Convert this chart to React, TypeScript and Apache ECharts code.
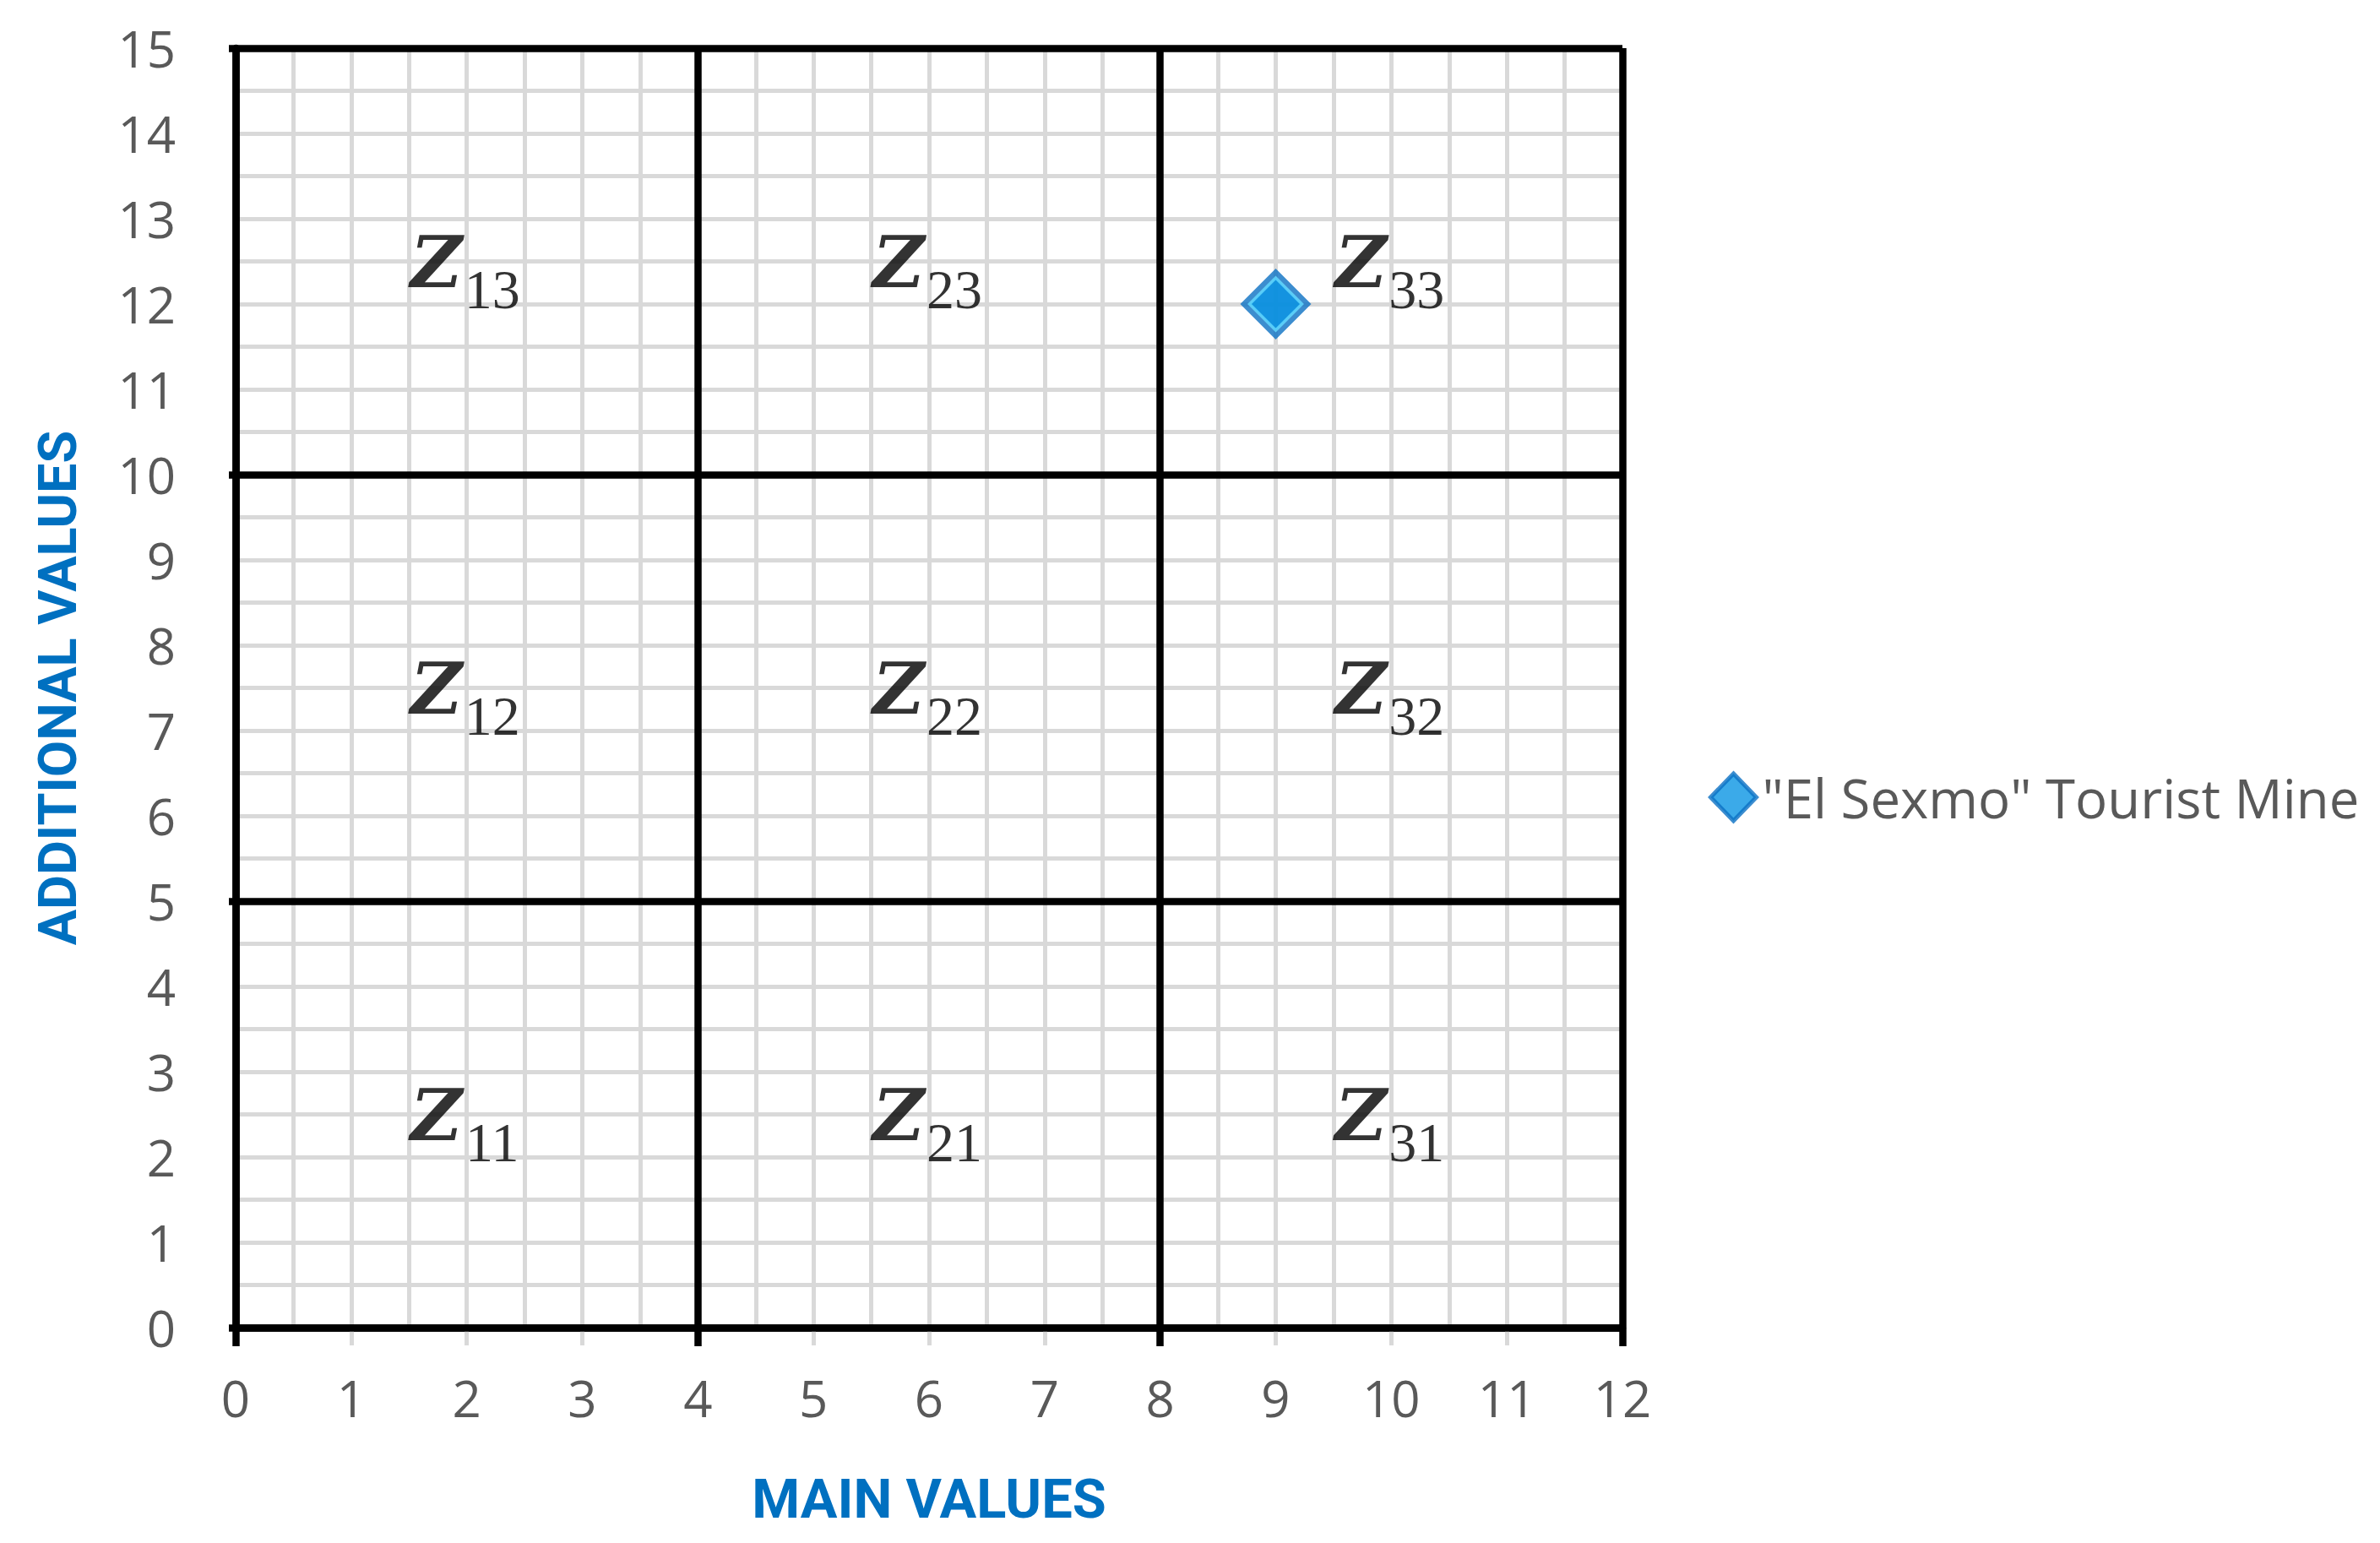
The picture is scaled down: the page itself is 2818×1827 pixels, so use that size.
import { useEffect, useRef } from "react";
import * as echarts from "echarts";

// Axis ranges
const X_MIN = 0;
const X_MAX = 12;
const Y_MIN = 0;
const Y_MAX = 15;
const TICK_STEP = 1;
const DIVIDER_STEP_X = 4;
const DIVIDER_STEP_Y = 5;

// Series: the tourist mine
const mineName = '"El Sexmo" Tourist Mine';
const mineX = [9];
const mineY = [12];

// Zone labels (Z_ij), placed at cell centres
const zoneX = [2, 6, 10, 2, 6, 10, 2, 6, 10];
const zoneY = [2.35, 2.35, 2.35, 7.35, 7.35, 7.35, 12.35, 12.35, 12.35];
const zoneSub = ["11", "21", "31", "12", "22", "32", "13", "23", "33"];

const GRAY = "#d9d9d9";
const LABEL = "#595959";
const BLUE = "#0070C0";

export default function App() {
  const ref = useRef<HTMLDivElement>(null);

  useEffect(() => {
    if (!ref.current) return;
    const chart = echarts.init(ref.current, undefined, { renderer: "svg" });

    const mineData = mineX.map((x, i) => [x, mineY[i]]);
    const zoneData = zoneX.map((x, i) => ({ value: [x, zoneY[i]], name: zoneSub[i] }));

    const option: any = {
      animation: false,
      backgroundColor: "#ffffff",
      grid: { left: 279, right: 897, top: 57, bottom: 255, containLabel: false },
      legend: {
        left: 2023,
        top: 912,
        padding: 0,
        itemWidth: 54,
        itemHeight: 56,
        data: [
          {
            name: mineName,
            icon: "diamond",
            itemStyle: { color: "#0a95e4", borderColor: "#0b71c3", borderWidth: 5 },
          },
        ],
        textStyle: { color: LABEL, fontFamily: "Open Sans", fontSize: 63.5, padding: [0, 0, 0, 2] },
      },
      xAxis: [
        {
          type: "value",
          min: X_MIN,
          max: X_MAX,
          interval: TICK_STEP,
          position: "bottom",
          name: "MAIN VALUES",
          nameLocation: "middle",
          nameGap: 170,
          nameTextStyle: { color: BLUE, fontFamily: "Roboto", fontWeight: "bold", fontSize: 65 },
          axisLine: { show: true, onZero: false, lineStyle: { color: "#000", width: 8.5 } },
          axisTick: { show: true, length: 21, lineStyle: { color: GRAY, width: 5 } },
          axisLabel: { color: LABEL, fontFamily: "Open Sans", fontSize: 60, margin: 53 },
          splitLine: { show: true, lineStyle: { color: GRAY, width: 5 } },
          minorTick: { show: false, splitNumber: 2 },
          minorSplitLine: { show: true, lineStyle: { color: GRAY, width: 5 } },
          z: 0,
        },
        {
          type: "value",
          min: X_MIN,
          max: X_MAX,
          interval: DIVIDER_STEP_X,
          position: "bottom",
          axisLine: { show: false },
          axisTick: { show: true, length: 22, lineStyle: { color: "#000", width: 8.5 } },
          axisLabel: { show: false },
          splitLine: { show: true, lineStyle: { color: "#000", width: 8.5 } },
          z: 1,
        },
      ],
      yAxis: [
        {
          type: "value",
          min: Y_MIN,
          max: Y_MAX,
          interval: TICK_STEP,
          position: "left",
          name: "ADDITIONAL VALUES",
          nameLocation: "middle",
          nameGap: 179,
          nameRotate: 90,
          nameTextStyle: { color: BLUE, fontFamily: "Roboto", fontWeight: "bold", fontSize: 63 },
          axisLine: { show: true, onZero: false, lineStyle: { color: "#000", width: 8.5 } },
          axisTick: { show: false },
          axisLabel: { color: LABEL, fontFamily: "Open Sans", fontSize: 60, margin: 71 },
          splitLine: { show: true, lineStyle: { color: GRAY, width: 5 } },
          minorTick: { show: false, splitNumber: 2 },
          minorSplitLine: { show: true, lineStyle: { color: GRAY, width: 5 } },
          z: 0,
        },
        {
          type: "value",
          min: Y_MIN,
          max: Y_MAX,
          interval: DIVIDER_STEP_Y,
          position: "left",
          axisLine: { show: false },
          axisTick: { show: true, length: 8, lineStyle: { color: "#000", width: 8.5 } },
          axisLabel: { show: false },
          splitLine: { show: true, lineStyle: { color: "#000", width: 8.5 } },
          z: 1,
        },
      ],
      series: [
        {
          name: mineName,
          type: "scatter",
          xAxisIndex: 0,
          yAxisIndex: 0,
          symbol: "diamond",
          symbolSize: 84,
          itemStyle: { color: "#0b71c3" },
          data: mineData,
          z: 5,
        },
        {
          name: mineName + " inner",
          type: "scatter",
          xAxisIndex: 0,
          yAxisIndex: 0,
          symbol: "diamond",
          symbolSize: 62,
          itemStyle: { color: "#0a95e4", borderColor: "#66dcff", borderWidth: 3.5 },
          data: mineData,
          silent: true,
          z: 6,
        },
        {
          name: "zoneZ",
          type: "scatter",
          symbolSize: 0,
          data: zoneData,
          silent: true,
          z: 7,
          label: {
            show: true,
            position: "inside",
            formatter: () => "Z",
            offset: [-36, -14],
            color: "#000000",
            textBorderWidth: 0,
            fontFamily: "DejaVu Serif",
            fontWeight: "bold",
            fontStyle: "italic",
            fontSize: 84,
          },
        },
        {
          name: "zoneSub",
          type: "scatter",
          symbolSize: 0,
          data: zoneData,
          silent: true,
          z: 7,
          label: {
            show: true,
            position: "inside",
            formatter: (p: any) => p.name,
            offset: [30, 18],
            color: "#000000",
            textBorderWidth: 0,
            fontFamily: "Liberation Serif",
            fontSize: 66,
          },
        },
      ],
    };

    chart.setOption(option);
    return () => chart.dispose();
  }, []);

  return (
    <div
      ref={ref}
      style={{ position: "fixed", left: 0, top: 0, width: 2818, height: 1827, background: "#fff" }}
    />
  );
}
